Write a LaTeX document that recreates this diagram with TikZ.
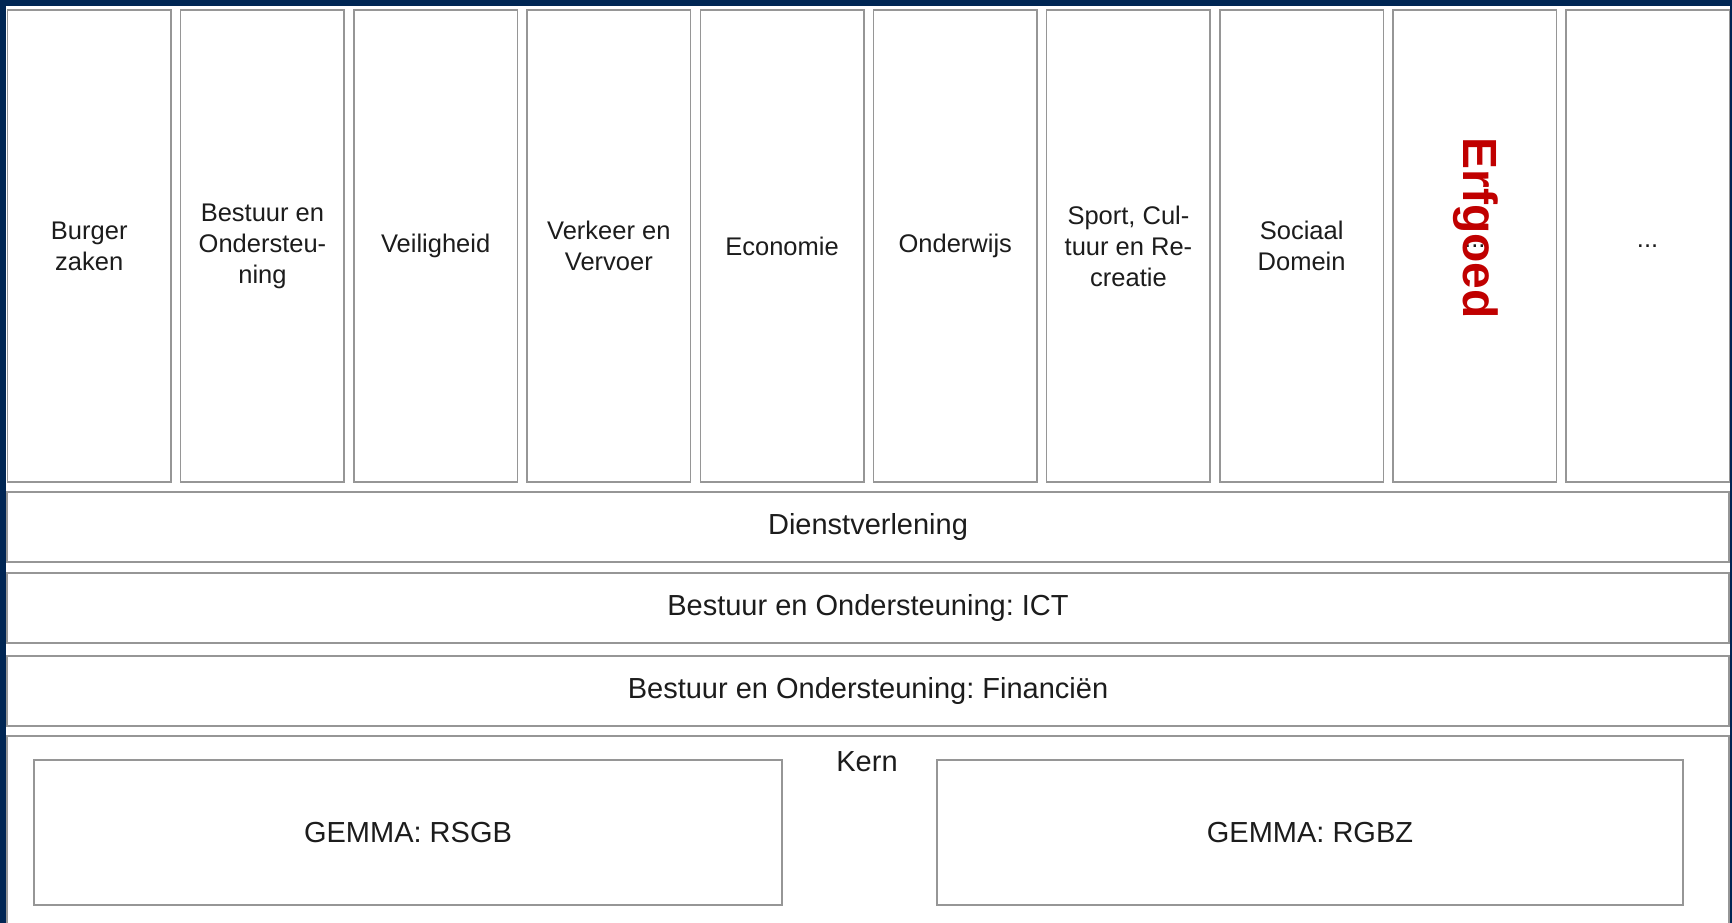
\documentclass[tikz,border=0pt]{standalone}
\usepackage{fontspec}
\setmainfont{Liberation Sans}
\frenchspacing
\definecolor{bgblue}{RGB}{0,38,84}
\definecolor{linegray}{RGB}{150,150,150}
\definecolor{txt}{RGB}{28,28,28}
\definecolor{erfred}{RGB}{192,0,0}
\begin{document}
\begin{tikzpicture}[x=1pt,y=-1pt,
  box/.style={draw=linegray, line width=1.5pt, fill=white, inner sep=0pt, outer sep=0pt,
    align=center, text=txt, font=\fontsize{29}{31}\selectfont},
  colbox/.style={box, minimum width=163.5pt, minimum height=472pt, font=\fontsize{25.5}{31}\selectfont},
  bar/.style={box, minimum width=1722pt, minimum height=70pt},
  gembox/.style={box, minimum width=748pt, minimum height=145pt},
  plain/.style={inner sep=0pt, text=txt, font=\fontsize{29}{31}\selectfont, align=center}]
\useasboundingbox (0,0) rectangle (1732,923);
\clip (0,0) rectangle (1732,923);
\fill[bgblue] (0,0) rectangle (1732,923);
\fill[white] (6,6) rectangle (1730,930);
% columns
\node[colbox] (c1)  at (89.25,246)  {Burger\\zaken};
\node[colbox] (c2)  at (262.45,246) {Bestuur en\\Ondersteu-\\ning};
\node[colbox] (c3)  at (435.65,246) {Veiligheid};
\node[colbox] (c4)  at (608.85,246) {Verkeer en\\Vervoer};
\node[colbox] (c5)  at (782.05,246) {Economie};
\node[colbox] (c6)  at (955.25,246) {Onderwijs};
\node[colbox] (c7)  at (1128.45,246) {Sport, Cul-\\tuur en Re-\\creatie};
\node[colbox] (c8)  at (1301.65,246) {Sociaal\\Domein};
\node[colbox] (c9)  at (1474.85,246) {...};
\node[colbox] (c10) at (1647.55,246) {...};
\node[rotate=-90, inner sep=0pt, text=erfred, font=\fontsize{48}{50}\selectfont\bfseries] (erf) at (1476,228) {Erfgoed};
% bars
\node[bar] (dv)  at (868,527) {Dienstverlening};
\node[bar] (ict) at (868,608) {Bestuur en Ondersteuning: ICT};
\node[bar] (fin) at (868,691) {Bestuur en Ondersteuning: Financiën};
% kern
\node[box, minimum width=1722pt, minimum height=210pt] (kern) at (868,841) {};
\node[plain] (kernlbl) at (867,762) {Kern};
\node[gembox] (rsgb) at (408,832.5) {GEMMA: RSGB};
\node[gembox, minimum width=746pt] (rgbz) at (1310,832.5) {GEMMA: RGBZ};
\end{tikzpicture}
\end{document}
